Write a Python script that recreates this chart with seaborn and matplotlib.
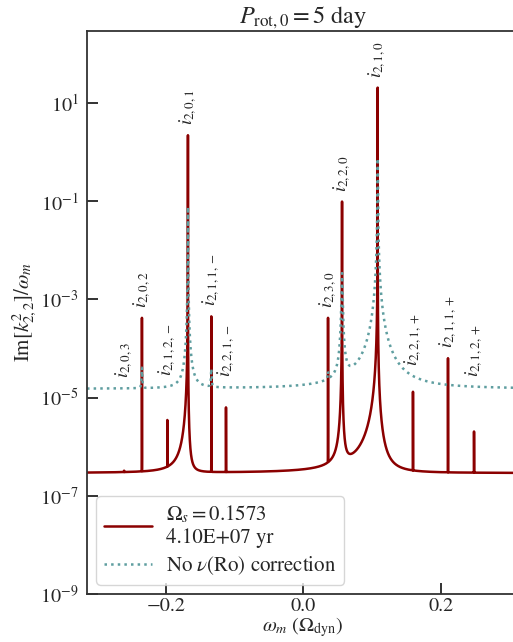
import numpy as np
import pandas as pd
import matplotlib
matplotlib.use("Agg")
import matplotlib.pyplot as plt
import seaborn as sns
from matplotlib.ticker import FixedLocator, LogFormatterSciNotation, NullLocator

# Resonant modes: label, frequency (Omega_dyn), peak heights and half-widths
mode_labels = [r"$i_{2,0,3}$", r"$i_{2,0,2}$", r"$i_{2,1,2,-}$", r"$i_{2,0,1}$",
               r"$i_{2,1,1,-}$", r"$i_{2,2,1,-}$", r"$i_{2,3,0}$", r"$i_{2,2,0}$",
               r"$i_{2,1,0}$", r"$i_{2,2,1,+}$", r"$i_{2,1,1,+}$", r"$i_{2,1,2,+}$"]
mode_freq = [-0.261, -0.235, -0.198, -0.168, -0.134, -0.1126,
             0.036, 0.0564, 0.1083, 0.1597, 0.2107, 0.2486]

# Rossby-corrected viscosity response
ro_base = 2.9e-7
ro_height = [2e-8, 4.2e-4, 3.1e-6, 2.2, 4.5e-4, 6.0e-6,
             4.2e-4, 0.098, 20.5, 1.28e-5, 6.3e-5, 1.74e-6]
ro_width_lo = [1e-6, 1e-6, 1e-6, 6.3e-6, 1e-6, 1e-6,
               1e-6, 2.0e-5, 5.0e-6, 1e-6, 1e-6, 1e-6]
ro_width_hi = [1e-6, 1e-6, 1e-6, 1.9e-6, 1e-6, 1e-6,
               1e-6, 1.2e-5, 2.2e-6, 1e-6, 1e-6, 1e-6]

# Response without the nu(Ro) correction
nc_base = 1.5e-5
nc_height = [0.0, 2.5e-5, 0.0, 0.076, 2.2e-5, 0.0,
             1.0e-5, 3.4e-3, 0.74, 0.0, 0.0, 0.0]
nc_width = [5e-4, 5e-4, 5e-4, 1.3e-4, 5e-4, 5e-4,
            5e-4, 6e-4, 2.1e-4, 5e-4, 5e-4, 5e-4]

x_lim = (-0.315, 0.315)
y_ticks = [1e-9, 1e-7, 1e-5, 1e-3, 1e-1, 1e1]


def spectrum(om, base, heights, w_lo, w_hi):
    out = np.full_like(om, base)
    for c, h, wl, wh in zip(mode_freq, heights, w_lo, w_hi):
        w = np.where(om < c, wl, wh)
        out += h / (1.0 + ((om - c) / w) ** 2)
    return out


# frequency grid, refined around each resonance
offs = np.geomspace(1e-9, 2e-2, 400)
om = np.concatenate([np.linspace(x_lim[0], x_lim[1], 20001)] +
                    [c + np.concatenate([-offs, [0.0], offs]) for c in mode_freq])
om = np.unique(om[(om >= x_lim[0]) & (om <= x_lim[1])])

df = pd.DataFrame({
    "omega": om,
    "ro": spectrum(om, ro_base, ro_height, ro_width_lo, ro_width_hi),
    "nc": spectrum(om, nc_base, nc_height, nc_width, nc_width),
})

sns.set_style("ticks")
plt.rcParams["font.family"] = ["STIXGeneral", "DejaVu Sans"]
plt.rcParams["mathtext.fontset"] = "stix"

fig = plt.figure(figsize=(5.13, 6.42), dpi=100)
ax = fig.add_axes([0.1696, 0.0748, 0.8433, 0.877])

sns.lineplot(data=df, x="omega", y="ro", ax=ax, color="#8b0000", lw=1.8,
             estimator=None, sort=False,
             label="$\\Omega_s = 0.1573$\n4.10E+07 yr")
sns.lineplot(data=df, x="omega", y="nc", ax=ax, color="#5f9ea0", lw=1.8,
             linestyle=":", estimator=None, sort=False,
             label=r"No $\nu$(Ro) correction")

ax.set_yscale("log")
ax.set_xlim(*x_lim)
ax.set_ylim(1e-9, 10 ** 2.466)

ax.yaxis.set_major_locator(FixedLocator(y_ticks))
ax.yaxis.set_major_formatter(LogFormatterSciNotation())
ax.yaxis.set_minor_locator(NullLocator())
ax.xaxis.set_major_locator(FixedLocator([-0.2, 0.0, 0.2]))
ax.xaxis.set_minor_locator(NullLocator())
ax.tick_params(axis="y", direction="in", length=8, width=1.3, labelsize=14.5,
               color="#222222", pad=6)
ax.tick_params(axis="x", direction="in", length=8, width=1.3, labelsize=14.5,
               color="#222222", pad=3)

for side in ["left", "bottom", "top", "right"]:
    ax.spines[side].set_color("#333333")
    ax.spines[side].set_linewidth(1.3)

# mode labels above each resonance
ro_peak = spectrum(np.array(mode_freq), ro_base, ro_height, ro_width_lo, ro_width_hi)
nc_peak = spectrum(np.array(mode_freq), nc_base, nc_height, nc_width, nc_width)
for lab, c, a, b in zip(mode_labels, mode_freq, ro_peak, nc_peak):
    ax.text(c, max(a, b) * 1.6, lab, rotation=90, ha="center", va="bottom",
            fontsize=13.5)

ax.set_xlabel(r"$\omega_m$ ($\Omega_{\rm dyn}$)", fontsize=14.5, labelpad=0)
ax.set_ylabel(r"Im$[k^2_{2,2}]/\omega_m$", fontsize=15, labelpad=1)
ax.set_title(r"$P_{\rm rot,0} = 5$ day", fontsize=17.5, pad=3)

ax.legend(loc="lower left", fontsize=15, handlelength=2.3,
          frameon=True, borderaxespad=0.45, labelspacing=0.3,
          handletextpad=0.7, borderpad=0.35)

fig.savefig("out.png", dpi=100)
